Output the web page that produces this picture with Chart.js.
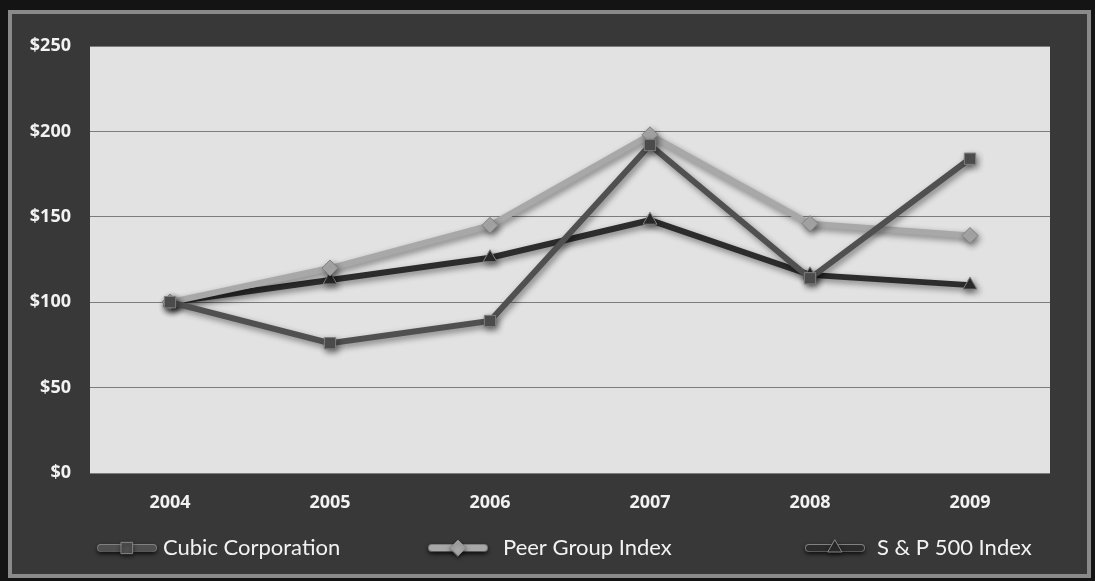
<!DOCTYPE html>
<html>
<head>
<meta charset="utf-8">
<script src="https://cdn.jsdelivr.net/npm/chart.js@4.4.1/dist/chart.umd.min.js"></script>
<style>
  html, body { margin: 0; padding: 0; background: #141414; }
  #wrap {
    position: absolute; left: 8px; top: 10px; width: 1075px; height: 560px;
    background: #383838; border: 4px solid #8a8a8a;
  }
  canvas { display: block; }
</style>
</head>
<body>
<div id="wrap"><canvas id="TsrChart" width="1075" height="560"></canvas></div>
<script>
(function () {
  "use strict";

  // categories + series (indexed $100 in 2004)
  const years = ['2004', '2005', '2006', '2007', '2008', '2009'];
  const cubic = [100, 76, 89, 192, 114, 184];
  const peer  = [100, 120, 145, 198, 146, 139];
  const sp500 = [100, 113, 126, 148, 116, 110];
  const yTicks = [0, 50, 100, 150, 200, 250];

  const cubic_color = '#505050';
  const peer_color  = '#a8a8a8';
  const sp_color    = '#2c2c2c';

  // legend item x positions (icon centre, text start) in canvas px
  const legend_pos = [[115, 151], [446, 491], [823, 865]];
  const legend_y = 534;

  // light plot background
  const plotBg = {
    id: 'plotBg',
    beforeDraw(chart) {
      const a = chart.chartArea, c = chart.ctx;
      c.save();
      c.fillStyle = '#e2e2e2';
      c.fillRect(a.left, a.top, a.right - a.left, a.bottom - a.top);
      c.restore();
    }
  };

  // drop shadow on the lines
  const lineShadow = {
    id: 'lineShadow',
    beforeDatasetsDraw(chart) {
      const c = chart.ctx;
      c.save();
      c.shadowColor = 'rgba(0,0,0,0.45)';
      c.shadowBlur = 6;
      c.shadowOffsetX = 2;
      c.shadowOffsetY = 3;
    },
    afterDatasetsDraw(chart) {
      chart.ctx.restore();
    }
  };

  // spread-out legend with line + marker icons
  const wideLegend = {
    id: 'wideLegend',
    afterDraw(chart) {
      const c = chart.ctx;
      c.save();
      chart.data.datasets.forEach((d, i) => {
        const [ix, tx] = legend_pos[i];
        c.shadowColor = 'rgba(0,0,0,0.5)';
        c.shadowBlur = 4;
        c.shadowOffsetY = 2;
        c.lineCap = 'round';
        c.strokeStyle = '#8a8a8a';
        c.lineWidth = 8;
        c.beginPath(); c.moveTo(ix - 26, legend_y); c.lineTo(ix + 26, legend_y); c.stroke();
        c.strokeStyle = d.borderColor;
        c.lineWidth = 6;
        c.beginPath(); c.moveTo(ix - 26, legend_y); c.lineTo(ix + 26, legend_y); c.stroke();
        c.fillStyle = d.borderColor;
        c.strokeStyle = '#888';
        c.lineWidth = 1;
        Chart.helpers.drawPoint(c, { pointStyle: d.pointStyle, radius: 8, borderWidth: 1 }, ix, legend_y);
        c.shadowColor = 'transparent';
        c.fillStyle = '#f2f2f2';
        c.font = '22px Lato';
        c.textBaseline = 'middle';
        c.textAlign = 'left';
        c.fillText(d.label, tx, legend_y);
      });
      c.restore();
    }
  };

  function series(label, data, color, style) {
    return {
      label: label,
      data: data,
      borderColor: color,
      backgroundColor: color,
      borderWidth: 6,
      pointStyle: style,
      pointRadius: 8,
      pointBackgroundColor: color,
      pointBorderColor: '#808080',
      pointBorderWidth: 1,
      tension: 0
    };
  }

  const ctx = document.getElementById('TsrChart').getContext('2d');
  new Chart(ctx, {
    type: 'line',
    data: {
      labels: years,
      datasets: [
        series('Cubic Corporation', cubic, cubic_color, 'rect'),
        series('Peer Group Index', peer, peer_color, 'rectRot'),
        series('S & P 500 Index', sp500, sp_color, 'triangle')
      ]
    },
    plugins: [plotBg, lineShadow, wideLegend],
    options: {
      responsive: false,
      animation: false,
      layout: { padding: { left: 3, right: 37, top: 32, bottom: 61 } },
      scales: {
        x: {
          offset: true,
          afterFit: s => { s.height = 40; },
          grid: { display: false },
          border: { display: false },
          ticks: {
            color: '#f2f2f2',
            padding: 11,
            font: { family: 'Open Sans', size: 18, weight: 'bold' }
          }
        },
        y: {
          min: 0,
          max: 250,
          afterBuildTicks: s => { s.ticks = yTicks.map(v => ({ value: v })); },
          afterFit: s => { s.width = 75; },
          grid: { color: '#7c7c7c', lineWidth: 1, drawTicks: false },
          border: { display: false },
          ticks: {
            color: '#f2f2f2',
            padding: 19,
            font: { family: 'Open Sans', size: 18, weight: 'bold' },
            callback: v => '$' + v
          }
        }
      },
      plugins: {
        tooltip: { enabled: false },
        legend: { display: false }
      }
    }
  });
})();
</script>
</body>
</html>
